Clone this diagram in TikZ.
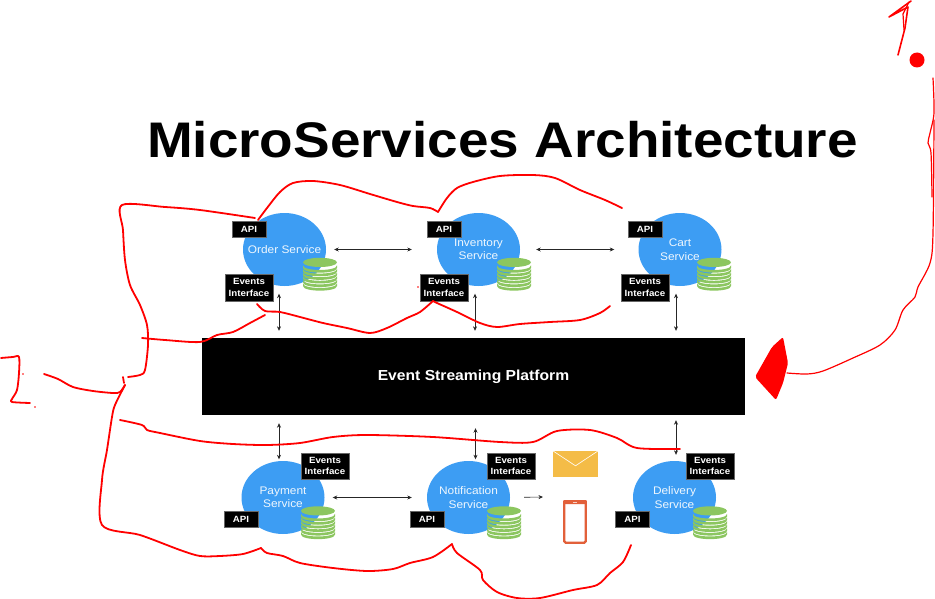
\documentclass[tikz,border=0pt]{standalone}
\usepackage{fontspec}
\setmainfont{Liberation Sans}
\newfontfamily\titleface[FakeStretch=1.098]{Liberation Sans}
\newfontfamily\serviceface[FakeStretch=1.08]{Liberation Sans}
\usetikzlibrary{shapes.geometric,arrows.meta}
\definecolor{serviceblue}{HTML}{3D9DF3}
\definecolor{stackgreen}{HTML}{8CC660}
\definecolor{mailgold}{HTML}{F4BC47}
\definecolor{phoneorange}{HTML}{E2603A}
\tikzset{
  service/.style={ellipse,fill=serviceblue,minimum width=83pt,minimum height=73pt,inner sep=-12pt,align=center,text=white!92!serviceblue,font=\serviceface\fontsize{11}{13.5}\selectfont},
  tagbox/.style={rectangle,fill=black,draw=black!60,line width=.4pt,inner sep=0pt,align=center,text=white,font=\serviceface\bfseries\fontsize{9}{11.5}\selectfont},
  api/.style={tagbox,minimum width=34pt,minimum height=16pt},
  events/.style={tagbox,minimum width=48pt,minimum height=26.5pt},
  link/.style={{Stealth[length=4.5pt,width=4pt]}-{Stealth[length=4.5pt,width=4pt]},line width=.6pt,black!85},
  scrawl/.style={red,line width=1.8pt,line cap=round,line join=round},
  thinscrawl/.style={red,line width=1.2pt,line cap=round,line join=round},
  dbstack/.pic={
    \fill[stackgreen] (0,-4.6) ellipse [x radius=17,y radius=4.6];
    \foreach \k in {1,...,6}
      \fill[stackgreen] (-17,3.6*\k-5.2) .. controls (-17,3.6*\k+.9) and (17,3.6*\k+.9) .. (17,3.6*\k-5.2)
        -- (17,3.6*\k-2.6) .. controls (17,3.6*\k+3.6) and (-17,3.6*\k+3.6) .. (-17,3.6*\k-2.6) -- cycle;
  }
}
\begin{document}
\begin{tikzpicture}[x=1pt,y=-1pt]
  \useasboundingbox (0,0) rectangle (935,599);
  \node[font=\titleface\bfseries\fontsize{50}{56}\selectfont,anchor=base] (title) at (502.5,158) {MicroServices Architecture};

  \node[rectangle,fill=black,minimum width=543pt,minimum height=77pt,inner sep=0pt,text=white,font=\serviceface\bfseries\fontsize{14.5}{16}\selectfont] (platform) at (473.5,376.5) {Event Streaming Platform};

  \node[service] (order) at (284.5,249.5) {Order Service};
  \node[service] (inventory) at (478.5,249.5) {Inventory\\Service};
  \node[service] (cart) at (680,249.5) {Cart\\Service};
  \node[service] (payment) at (283,497.5) {Payment\\Service};
  \node[service] (notification) at (468.5,497.5) {Notification\\Service};
  \node[service] (delivery) at (674.5,497.5) {Delivery\\Service};

  \pic at (320,267) {dbstack};
  \pic at (514,267) {dbstack};
  \pic at (714,267) {dbstack};
  \pic at (318,515.5) {dbstack};
  \pic at (504,515.5) {dbstack};
  \pic at (710,515.5) {dbstack};

  \node[api] (apiorder) at (249,229) {API};
  \node[api] (apiinventory) at (444,229) {API};
  \node[api] (apicart) at (645,229) {API};
  \node[api] (apipayment) at (241,519) {API};
  \node[api] (apinotification) at (427,519) {API};
  \node[api] (apidelivery) at (632.5,519) {API};
  \node[events] (evorder) at (249,287.5) {Events\\Interface};
  \node[events] (evinventory) at (444,287.5) {Events\\Interface};
  \node[events] (evcart) at (645,287.5) {Events\\Interface};
  \node[events] (evpayment) at (325,466) {Events\\Interface};
  \node[events] (evnotification) at (511,466) {Events\\Interface};
  \node[events] (evdelivery) at (710,466) {Events\\Interface};

  \node[rectangle,fill=mailgold,minimum width=45pt,minimum height=26pt,inner sep=0pt] (mail) at (575.5,464) {};
  \draw[white,line width=.6pt] (mail.north west) -- ([yshift=-15pt]mail.north) -- (mail.north east);
  \node[rectangle,rounded corners=1.5pt,draw=phoneorange,fill=white,line width=2.4pt,minimum width=21.5pt,minimum height=41.5pt,inner sep=0pt] (phone) at (575,522) {};
  \fill[phoneorange,rounded corners=1pt] (phone.north west) rectangle ([yshift=-4pt]phone.north east);
  \fill[white!70!phoneorange] ([yshift=-2pt,xshift=-2pt]phone.north) rectangle ([yshift=-3pt,xshift=2pt]phone.north);

  \coordinate (mediaside) at (543,497);

  \draw[link,shorten <=8pt,shorten >=25pt] (order.east) -- (inventory.west);
  \draw[link,shorten <=16pt,shorten >=24pt] (inventory.east) -- (cart.west);
  \draw[link,shorten <=8pt,shorten >=15pt] (payment.east) -- (notification.west);
  \draw[line width=.6pt,black!85,-{Stealth[length=4.5pt,width=4pt]},shorten <=14pt] (notification.east) -- (mediaside);
  \draw[link,shorten <=7.5pt,shorten >=7pt] ([xshift=-5.5pt]order.south) -- ([xshift=-5.5pt]order.south |- platform.north);
  \draw[link,shorten <=7.5pt,shorten >=7pt] ([xshift=-3.5pt]inventory.south) -- ([xshift=-3.5pt]inventory.south |- platform.north);
  \draw[link,shorten <=7.5pt,shorten >=7pt] ([xshift=-4pt]cart.south) -- ([xshift=-4pt]cart.south |- platform.north);
  \draw[link,shorten <=8pt,shorten >=1.5pt] ([xshift=-4pt]payment.north |- platform.south) -- ([xshift=-4pt]payment.north);
  \draw[link,shorten <=13pt,shorten >=1.5pt] ([xshift=7pt]notification.north |- platform.south) -- ([xshift=7pt]notification.north);
  \draw[link,shorten <=5pt,shorten >=6pt] ([xshift=1.5pt]delivery.north |- platform.south) -- ([xshift=1.5pt]delivery.north);

  \draw[scrawl] plot[smooth,tension=.5] coordinates {(255,218) (200,210) (165,207) (122,205) (123,230) (125,260) (130,285) (140,305) (147,325) (148,345) (145,370) (140,375) (128,377)};
  \draw[scrawl] plot[smooth,tension=.5] coordinates {(258,220) (267,208) (280,192) (293,183) (313,181) (340,185) (370,194) (397,202) (413,206) (430,208) (438,212)};
  \draw[scrawl] plot[smooth,tension=.5] coordinates {(438,212) (447,198) (457,188) (473,182) (500,176) (533,175) (555,178) (580,190) (605,200) (622,208)};
  \draw[scrawl] plot[smooth,tension=.5] coordinates {(142,338) (165,340) (200,342) (217,335) (233,332) (250,323) (265,315)};
  \draw[scrawl] plot[smooth,tension=.5] coordinates {(257,304) (265,311) (280,312) (300,317) (323,323) (347,328) (370,333) (387,328) (407,318) (420,312) (433,301)};
  \draw[scrawl] plot[smooth,tension=.5] coordinates {(433,301) (437,303) (457,312) (480,323) (497,327) (520,324) (550,322) (580,320) (600,313) (610,306)};
  \draw[scrawl] plot[smooth,tension=.5] coordinates {(44,374) (58,379) (73,387) (93,391) (113,393) (120,392) (125,385)};
  \draw[scrawl] (123,377) -- (124,383);
  \draw[scrawl] plot[smooth,tension=.5] coordinates {(125,385) (115,405) (112,417) (107,450) (102,480) (102,525) (140,535) (180,550) (200,556) (220,556) (243,554) (261,548)};
  \draw[scrawl] plot[smooth,tension=.5] coordinates {(261,548) (267,553) (283,556) (300,563) (333,568) (367,571) (393,569) (410,563) (433,557) (452,544)};
  \draw[scrawl] plot[smooth,tension=.5] coordinates {(452,544) (457,553) (480,570) (483,580) (497,592) (517,598) (540,598) (573,590) (597,585) (610,573) (623,562) (631,545)};
  \draw[scrawl] plot[smooth,tension=.5] coordinates {(120,420) (142,425) (147,430) (160,433) (200,441) (233,444) (267,445) (300,443) (333,437) (367,435) (433,437) (500,442) (533,442) (557,431) (590,430) (617,438) (637,448) (680,449)};
  \draw[scrawl] plot[smooth,tension=.5] coordinates {(1,358) (13,357) (19,357) (19,373) (17,390) (12,399) (12,402) (30,403)};
  \fill[red] (23,374) circle [radius=.8];
  \fill[red] (35,407) circle [radius=.8];
  \fill[red] (418,287) circle [radius=.8];

  \draw[thinscrawl] plot[smooth,tension=.5] coordinates {(933,78) (934,113) (930,133) (928,143) (931,153) (932,197)};
  \draw[thinscrawl] plot[smooth,tension=.5] coordinates {(934,120) (933,233) (930,263) (918,287) (915,297) (903,310) (895,330) (880,345) (853,358) (823,371) (807,374) (787,373)};
  \fill[red,rounded corners=2pt] (783,337) -- (788,363) -- (783,383) -- (776,400) -- (755,377) -- (772,347) -- cycle;
  \draw[thinscrawl,line width=1.6pt] (911,1) -- (889,17) -- (908,7) -- (905,28) -- (898,55);
  \draw[thinscrawl] (909,2) -- (903,14) -- (904,30);
  \fill[red] (917,60) circle [radius=7.5];
\end{tikzpicture}
\end{document}
